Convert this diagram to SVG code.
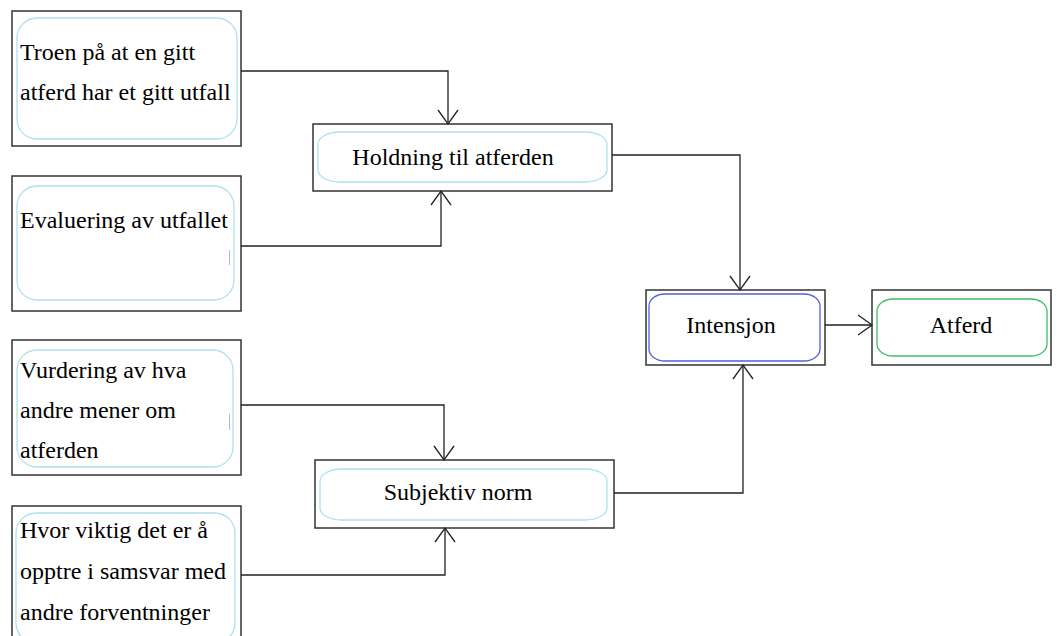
<svg xmlns="http://www.w3.org/2000/svg" width="1058" height="636" viewBox="0 0 1058 636">
<style>
.outer{fill:#fff;stroke:#333;stroke-width:1.5}
.inner{fill:#fff;stroke:#aee0ee;stroke-width:1.3}
.conn{fill:none;stroke:#222;stroke-width:1.3}
.ah{fill:none;stroke:#222;stroke-width:1.3}
</style>
<rect width="1058" height="636" fill="#fff"/>
<g id="n-troen">
<rect class="outer" x="12" y="11" width="229" height="135"/>
<rect class="inner" x="17" y="18" width="220" height="121" rx="20" ry="20"/>
<text x="20" y="60" font-family="Liberation Serif" font-size="24" fill="#000">Troen på at en gitt</text>
<text x="20" y="100" font-family="Liberation Serif" font-size="24" fill="#000">atferd har et gitt utfall</text>
</g>
<g id="n-evaluering">
<rect class="outer" x="12" y="176" width="229" height="135"/>
<rect class="inner" x="17" y="186" width="217" height="114" rx="20" ry="20"/>
<text x="20" y="228" font-family="Liberation Serif" font-size="24" fill="#000">Evaluering av utfallet</text>
<line x1="229.5" y1="250" x2="229.5" y2="265" stroke="#bbb" stroke-width="1"/>
</g>
<g id="n-vurdering">
<rect class="outer" x="12" y="340" width="229" height="135"/>
<rect class="inner" x="17" y="350" width="216" height="117" rx="20" ry="20"/>
<text x="20" y="378" font-family="Liberation Serif" font-size="24" fill="#000">Vurdering av hva</text>
<text x="20" y="418" font-family="Liberation Serif" font-size="24" fill="#000">andre mener om</text>
<text x="20" y="458" font-family="Liberation Serif" font-size="24" fill="#000">atferden</text>
<line x1="229.5" y1="414" x2="229.5" y2="430" stroke="#bbb" stroke-width="1"/>
</g>
<g id="n-hvor">
<rect class="outer" x="12" y="506" width="229" height="135"/>
<rect class="inner" x="16" y="513" width="219" height="130" rx="20" ry="20"/>
<text x="20" y="538" font-family="Liberation Serif" font-size="24" fill="#000">Hvor viktig det er å</text>
<text x="20" y="579" font-family="Liberation Serif" font-size="24" fill="#000">opptre i samsvar med</text>
<text x="20" y="620" font-family="Liberation Serif" font-size="24" fill="#000">andre forventninger</text>
</g>
<g id="n-holdning">
<rect class="outer" x="313" y="124" width="299" height="67"/>
<rect class="inner" x="318" y="132" width="289" height="50" rx="22" ry="12"/>
<text x="453" y="165" text-anchor="middle" font-family="Liberation Serif" font-size="24" fill="#000">Holdning til atferden</text>
</g>
<g id="n-subjektiv">
<rect class="outer" x="315" y="460" width="299" height="68"/>
<rect class="inner" x="320" y="469" width="287" height="51" rx="22" ry="12"/>
<text x="458" y="500" text-anchor="middle" font-family="Liberation Serif" font-size="24" fill="#000">Subjektiv norm</text>
</g>
<g id="n-intensjon">
<rect class="outer" x="646" y="290" width="179" height="75"/>
<rect x="649" y="294" width="171" height="67" rx="16" ry="12" fill="#fff" stroke="#5060d8" stroke-width="1.3"/>
<text x="731" y="333" text-anchor="middle" font-family="Liberation Serif" font-size="24" fill="#000">Intensjon</text>
</g>
<g id="n-atferd">
<rect class="outer" x="872" y="290" width="179" height="75"/>
<rect x="877" y="299" width="170" height="57" rx="16" ry="12" fill="#fff" stroke="#3cc060" stroke-width="1.3"/>
<text x="961" y="333" text-anchor="middle" font-family="Liberation Serif" font-size="24" fill="#000">Atferd</text>
</g>
<g id="connectors">
<polyline class="conn" points="241,71 448,71 448,124"/>
<polyline class="ah" points="438,110 448,124 458,110"/>
<polyline class="conn" points="241,246 441,246 441,191"/>
<polyline class="ah" points="431,205 441,191 451,205"/>
<polyline class="conn" points="241,405 444,405 444,460"/>
<polyline class="ah" points="434,446 444,460 454,446"/>
<polyline class="conn" points="241,575 445,575 445,528"/>
<polyline class="ah" points="435,542 445,528 455,542"/>
<polyline class="conn" points="612,155 740,155 740,290"/>
<polyline class="ah" points="730,276 740,290 750,276"/>
<polyline class="conn" points="614,493 743,493 743,365"/>
<polyline class="ah" points="733,379 743,365 753,379"/>
<line class="conn" x1="825" y1="325" x2="872" y2="325"/>
<polyline class="ah" points="858,315 872,325 858,335"/>
</g>
</svg>
